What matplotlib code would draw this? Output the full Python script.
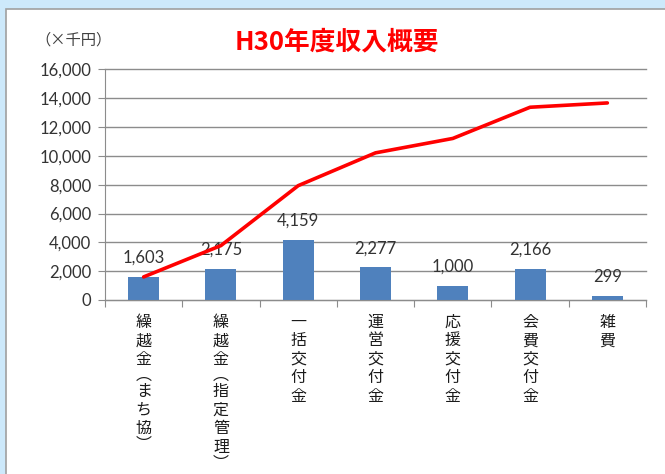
import numpy as np
import matplotlib.pyplot as plt
from matplotlib.patches import Rectangle

plt.rcParams['font.family'] = ['Noto Sans CJK JP', 'DejaVu Sans']

# data
categories = ['繰越金︵まち協︶', '繰越金︵指定管理︶', '一括交付金', '運営交付金',
              '応援交付金', '会費交付金', '雑費']
amounts = [1603, 2175, 4159, 2277, 1000, 2166, 299]
cumulative = [1603, 3778, 7937, 10214, 11214, 13380, 13679]
yticks = [0, 2000, 4000, 6000, 8000, 10000, 12000, 14000, 16000]

W, H = 665.0, 474.0
px = 72.0 / 100  # one pixel in points
numfont = ['Lato', 'DejaVu Sans']

fig = plt.figure(figsize=(6.65, 4.74), dpi=100)
fig.patch.set_facecolor('#cde9fb')

# white chart area with a grey border
fig.patches.append(Rectangle((6 / W, -0.01), 1.0, 1 - 9 / H + 0.01,
                             transform=fig.transFigure, facecolor='white',
                             edgecolor='#a0a0a0', lw=1.2, zorder=-10))

ax = fig.add_axes([105 / W, 1 - 300 / H, (646 - 105) / W, (300 - 69.5) / H])
ax.set_facecolor('none')

x = np.arange(len(categories))
ax.bar(x, amounts, width=0.40, color='#4f81bd', zorder=2)
ax.plot(x, cumulative, color='#ff0000', lw=2.6, zorder=5, solid_capstyle='round')

for xi, v in zip(x, amounts):
    ax.annotate(f'{v:,}', (xi, v), xytext=(0, 11 * px), textcoords='offset points',
                ha='center', va='bottom', fontsize=12, family=numfont,
                color='#333333', zorder=4)

ax.set_xlim(-0.5, len(categories) - 0.5)
ax.set_ylim(0, 16000)
ax.set_yticks(yticks)
ax.set_yticklabels([f'{t:,}' for t in yticks], fontsize=12, family=numfont,
                   color='#333333')
ax.yaxis.grid(True, color='#8c8c8c', lw=1)
for g in ax.get_ygridlines():
    g.set_clip_on(False)
ax.set_axisbelow(True)

# category boundary ticks on the x axis
ax.set_xticks(np.arange(-0.5, len(categories)))
ax.set_xticklabels([])
ax.tick_params(axis='x', length=5, color='#8c8c8c', direction='out')
ax.tick_params(axis='y', length=5, color='#8c8c8c', direction='out', pad=5)

# vertical category names, one character at a time
for xi, name in zip(x, categories):
    y = 13
    for ch in name:
        step = 14 if ch in '︵︶' else 18.5
        ax.annotate(ch, (xi, 0), xytext=(0, -(y + step / 2) * px),
                    textcoords='offset points', ha='center', va='center',
                    fontsize=11.5, color='#1a1a1a')
        y += step

for side in ['top', 'right']:
    ax.spines[side].set_visible(False)
ax.spines['left'].set_color('#8c8c8c')
ax.spines['bottom'].set_color('#8c8c8c')

fig.text(337 / W, 1 - 42 / H, 'H30年度収入概要', ha='center', va='center',
         fontsize=18.5, fontweight='bold', color='#ff0000')
fig.text(35 / W, 1 - 40 / H, '（×千円）', ha='left', va='center',
         fontsize=11, color='#404040')

fig.savefig('out.png', dpi=100, facecolor=fig.get_facecolor())
